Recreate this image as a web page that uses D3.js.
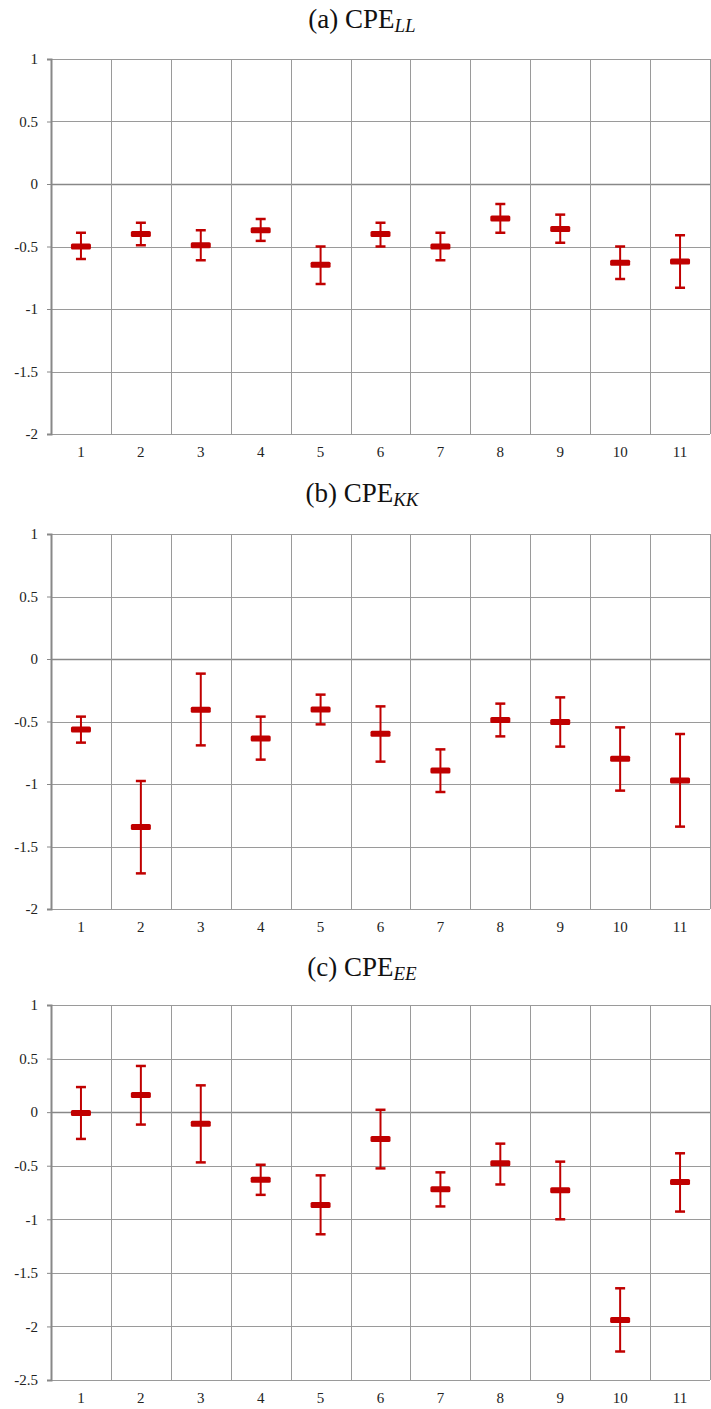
<!DOCTYPE html>
<html>
<head>
<meta charset="utf-8">
<script src="https://cdn.jsdelivr.net/npm/d3@7/dist/d3.min.js"></script>
<style>
  html, body { margin: 0; padding: 0; background: #fff; }
  svg { display: block; }
</style>
</head>
<body>
<script>
// Categories shared by all three panels
const categories = [1, 2, 3, 4, 5, 6, 7, 8, 9, 10, 11];

// (a) CPE_LL: point estimate with lower / upper interval bounds
const meanLL = [-0.50, -0.40, -0.49, -0.37, -0.645, -0.40, -0.50, -0.275, -0.36, -0.63, -0.62];
const lowLL  = [-0.60, -0.49, -0.61, -0.455, -0.80, -0.50, -0.61, -0.39, -0.47, -0.76, -0.83];
const highLL = [-0.39, -0.31, -0.37, -0.28, -0.50, -0.31, -0.39, -0.16, -0.245, -0.50, -0.41];

// (b) CPE_KK
const meanKK = [-0.563, -1.344, -0.405, -0.635, -0.403, -0.597, -0.891, -0.488, -0.504, -0.797, -0.971];
const lowKK  = [-0.669, -1.715, -0.691, -0.805, -0.523, -0.821, -1.064, -0.619, -0.701, -1.053, -1.341];
const highKK = [-0.461, -0.976, -0.117, -0.461, -0.285, -0.379, -0.723, -0.357, -0.307, -0.547, -0.600];

// (c) CPE_EE
const meanEE = [-0.009, 0.159, -0.109, -0.631, -0.866, -0.250, -0.719, -0.478, -0.728, -1.940, -0.653];
const lowEE  = [-0.250, -0.116, -0.469, -0.772, -1.140, -0.525, -0.880, -0.675, -1.000, -2.234, -0.928];
const highEE = [0.234, 0.431, 0.250, -0.491, -0.590, 0.022, -0.562, -0.294, -0.462, -1.644, -0.384];

// Y tick values for each panel
const ticksLL = [1, 0.5, 0, -0.5, -1, -1.5, -2];
const ticksKK = [1, 0.5, 0, -0.5, -1, -1.5, -2];
const ticksEE = [1, 0.5, 0, -0.5, -1, -1.5, -2, -2.5];

// Panel titles: prefix and subscript
const titlesMain = ["(a) CPE", "(b) CPE", "(c) CPE"];
const titlesSub = ["LL", "KK", "EE"];

const W = 711, H = 1409;
const SERIF = "Liberation Serif";
const svg = d3.select("body").append("svg").attr("width", W).attr("height", H);

const RED = "#c00000";
const GRID = "#9a9a9a";

const panels = [
  { mean: meanLL, low: lowLL, high: highLL, ticks: ticksLL, title: 0, top: 59, bottom: 434, titleY: 28 },
  { mean: meanKK, low: lowKK, high: highKK, ticks: ticksKK, title: 1, top: 534, bottom: 909, titleY: 502 },
  { mean: meanEE, low: lowEE, high: highEE, ticks: ticksEE, title: 2, top: 1005, bottom: 1380, titleY: 976 }
];

const left = 51, right = 710;

panels.forEach(p => {
  const g = svg.append("g");
  const yDom = d3.extent(p.ticks);
  const x = d3.scaleBand().domain(categories).range([left, right]);
  const y = d3.scaleLinear().domain(yDom).range([p.bottom, p.top]);

  // Title
  const t = g.append("text")
    .attr("x", 362)
    .attr("y", p.titleY)
    .attr("text-anchor", "middle")
    .style("font-family", SERIF)
    .attr("font-size", 27)
    .attr("fill", "#111");
  t.append("tspan").text(titlesMain[p.title]);
  t.append("tspan").text(titlesSub[p.title])
    .attr("font-style", "italic")
    .attr("font-size", 19)
    .attr("dy", 4);

  // Horizontal gridlines
  g.selectAll("line.hgrid").data(p.ticks).join("line")
    .attr("class", "hgrid")
    .attr("x1", left).attr("x2", right)
    .attr("y1", d => Math.round(y(d)) + 0.5).attr("y2", d => Math.round(y(d)) + 0.5)
    .attr("stroke", d => d === 0 ? "#888" : GRID)
    .attr("stroke-width", d => d === 0 ? 1.6 : 1);

  // Vertical band separators
  const bounds = categories.map(c => x(c) + x.bandwidth());
  g.selectAll("line.vgrid").data(bounds).join("line")
    .attr("class", "vgrid")
    .attr("x1", d => Math.round(d) + 0.5).attr("x2", d => Math.round(d) + 0.5)
    .attr("y1", p.top).attr("y2", p.bottom)
    .attr("stroke", GRID).attr("stroke-width", 1);

  // Y axis
  const yAxis = d3.axisLeft(y).tickValues(p.ticks).tickSize(4).tickPadding(9)
    .tickFormat(d => String(d));
  const ya = g.append("g").attr("transform", `translate(${left},0)`).call(yAxis);
  ya.attr("font-family", null);
  ya.select(".domain").attr("stroke", "#888").attr("stroke-width", 2);
  ya.selectAll(".tick line").attr("stroke", "#888");
  ya.selectAll(".tick text").style("font-family", SERIF).attr("font-size", 15).attr("fill", "#222");

  // X axis labels
  const xAxis = d3.axisBottom(x).tickSize(0).tickPadding(12);
  const xa = g.append("g").attr("transform", `translate(0,${p.bottom})`).call(xAxis);
  xa.attr("font-family", null);
  xa.select(".domain").remove();
  xa.selectAll(".tick text").style("font-family", SERIF).attr("font-size", 15).attr("fill", "#222");

  // Error bars
  const data = categories.map((c, i) => ({ c, m: p.mean[i], lo: p.low[i], hi: p.high[i] }));
  const cx = d => x(d.c) + x.bandwidth() / 2;
  const eb = g.selectAll("g.eb").data(data).join("g").attr("class", "eb");
  eb.append("line")
    .attr("x1", cx).attr("x2", cx)
    .attr("y1", d => y(d.hi)).attr("y2", d => y(d.lo))
    .attr("stroke", RED).attr("stroke-width", 2);
  eb.append("line")
    .attr("x1", d => cx(d) - 5).attr("x2", d => cx(d) + 5)
    .attr("y1", d => y(d.hi)).attr("y2", d => y(d.hi))
    .attr("stroke", RED).attr("stroke-width", 2.5);
  eb.append("line")
    .attr("x1", d => cx(d) - 5).attr("x2", d => cx(d) + 5)
    .attr("y1", d => y(d.lo)).attr("y2", d => y(d.lo))
    .attr("stroke", RED).attr("stroke-width", 2.5);
  eb.append("rect")
    .attr("x", d => cx(d) - 10).attr("width", 20)
    .attr("y", d => y(d.m) - 3).attr("height", 6)
    .attr("rx", 1.5)
    .attr("fill", RED);
});
</script>
</body>
</html>
